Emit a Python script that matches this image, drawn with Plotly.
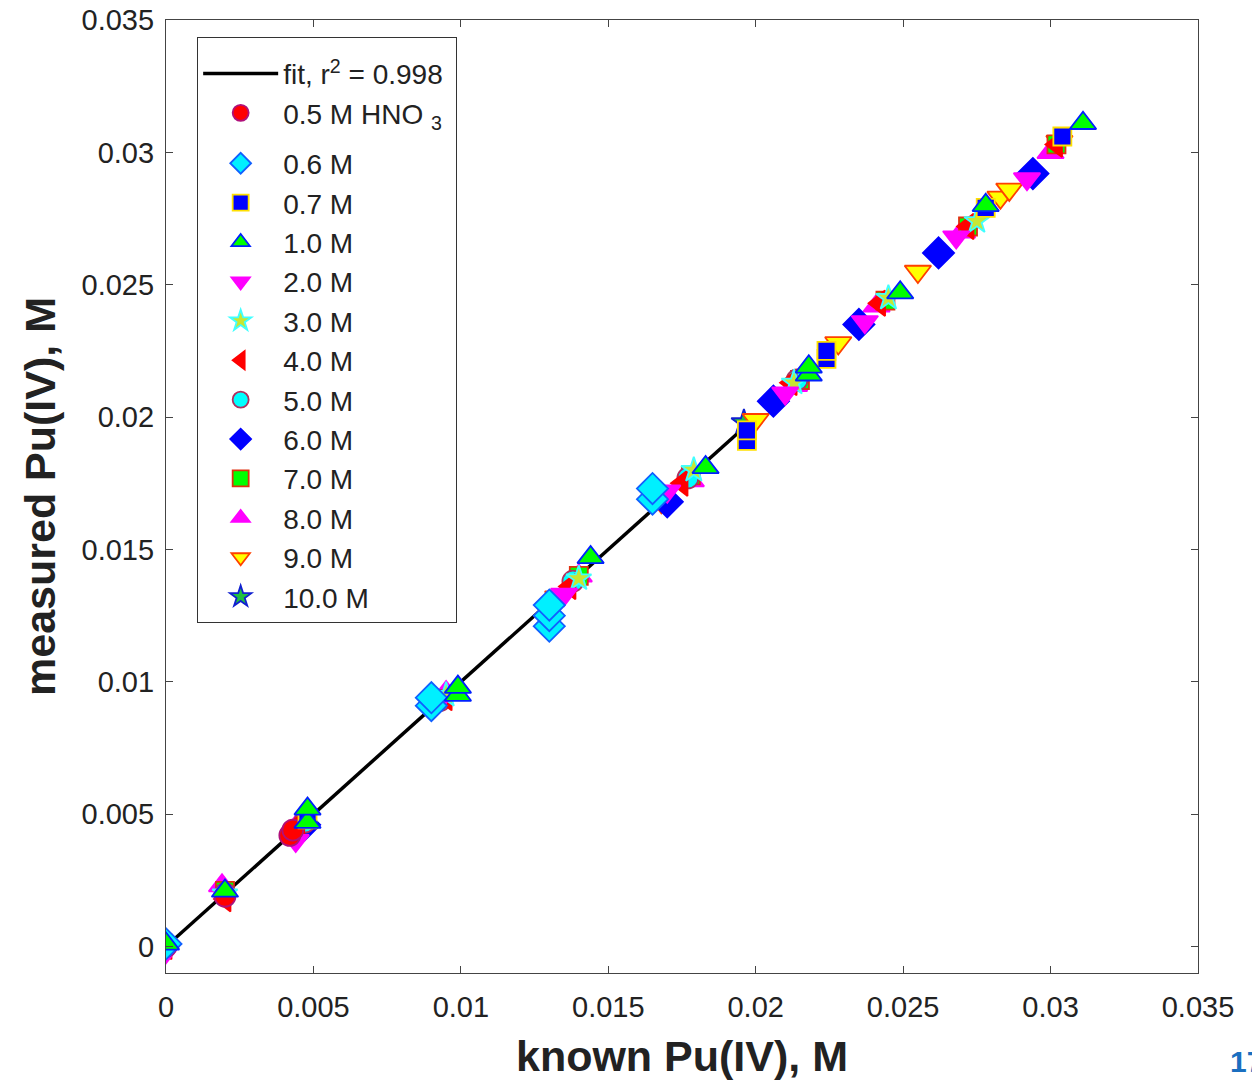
import plotly.graph_objects as go

# ---------------- data ----------------
fit_x = [0.0, 0.0197]
fit_y = [0.0, 0.0197]
fit_label = "fit, r<sup>2</sup> = 0.998\u00a0"

series_names = ["0.5 M HNO <sub>3</sub>", "0.6 M", "0.7 M", "1.0 M", "2.0 M", "3.0 M", "4.0 M",
                "5.0 M", "6.0 M", "7.0 M", "8.0 M", "9.0 M", "10.0 M"]

x_05 = [0.0, 0.0020, 0.0042, 0.0043]
y_05 = [0.0000, 0.0019, 0.0042, 0.0044]

x_06 = [0.0, 0.0090, 0.0090, 0.0130, 0.0130, 0.0130, 0.0165, 0.0165]
y_06 = [0.0001, 0.0091, 0.0094, 0.0121, 0.0125, 0.0129, 0.0169, 0.0173]

x_07 = [0.0048, 0.0197, 0.0197, 0.0224, 0.0224, 0.0278, 0.0304]
y_07 = [0.0048, 0.0191, 0.0195, 0.0222, 0.0225, 0.0279, 0.0306]

x_10 = [0.0, 0.0020, 0.0048, 0.0048, 0.0099, 0.0099, 0.0144, 0.0183, 0.0218, 0.0218, 0.0249, 0.0278, 0.0311]
y_10 = [0.0001, 0.0021, 0.0047, 0.0052, 0.0095, 0.0098, 0.0147, 0.0181, 0.0216, 0.0219, 0.0247, 0.0280, 0.0311]

x_20 = [0.0, 0.0044, 0.0092, 0.0135, 0.0170, 0.0210, 0.0237, 0.0268, 0.0292]
y_20 = [-0.0002, 0.0040, 0.0092, 0.0133, 0.0172, 0.0209, 0.0236, 0.0268, 0.0290]

x_30 = [0.0020, 0.0095, 0.0140, 0.0179, 0.0213, 0.0245, 0.0275]
y_30 = [0.0020, 0.0095, 0.0139, 0.0180, 0.0213, 0.0245, 0.0274]

x_40 = [0.0, 0.0020, 0.0045, 0.0095, 0.0137, 0.0175, 0.0212, 0.0242, 0.0272, 0.0302]
y_40 = [0.0, 0.0018, 0.0046, 0.0094, 0.0136, 0.0175, 0.0213, 0.0243, 0.0272, 0.0303]

x_50 = [0.0020, 0.0047, 0.0093, 0.0138, 0.0177, 0.0214]
y_50 = [0.0020, 0.0047, 0.0093, 0.0138, 0.0177, 0.0214]

x_60 = [0.0047, 0.0170, 0.0206, 0.0235, 0.0262, 0.0294]
y_60 = [0.0046, 0.0168, 0.0206, 0.0235, 0.0262, 0.0292]

x_70 = [0.0020, 0.0140, 0.0178, 0.0215, 0.0244, 0.0272, 0.0302]
y_70 = [0.0021, 0.0140, 0.0178, 0.0214, 0.0244, 0.0272, 0.0303]

x_80 = [0.0019, 0.0046, 0.0095, 0.0140, 0.0178, 0.0213, 0.0241, 0.0270, 0.0300]
y_80 = [0.0023, 0.0048, 0.0096, 0.0140, 0.0176, 0.0212, 0.0242, 0.0270, 0.0300]

x_90 = [0.0133, 0.0168, 0.0200, 0.0228, 0.0255, 0.0283, 0.0286, 0.0303]
y_90 = [0.0132, 0.0168, 0.0199, 0.0228, 0.0255, 0.0283, 0.0286, 0.0304]

x_100 = [0.0196]
y_100 = [0.0198]

tick_vals = [0, 0.005, 0.01, 0.015, 0.02, 0.025, 0.03, 0.035]
tick_text = ["0", "0.005", "0.01", "0.015", "0.02", "0.025", "0.03", "0.035"]

# ---------------- styles ----------------
xs = [x_05, x_06, x_07, x_10, x_20, x_30, x_40, x_50, x_60, x_70, x_80, x_90, x_100]
ys = [y_05, y_06, y_07, y_10, y_20, y_30, y_40, y_50, y_60, y_70, y_80, y_90, y_100]
symbols = ["circle", "diamond", "square", "triangle-up", "triangle-down", "star", "triangle-left",
           "circle", "diamond", "square", "triangle-up", "triangle-down", "star"]
fills = ["#ff0000", "#00f0ff", "#0000ff", "#00ff00", "#ff00ff", "#c8e632", "#ff0000",
         "#00ffff", "#0000ff", "#00ff00", "#ff00ff", "#ffff00", "#20c040"]
edges = ["#b0107a", "#1060ff", "#ffe000", "#0020ff", "#ff00ff", "#40ffff", "#ff0000",
         "#b03060", "#0000ff", "#e03010", "#ff00ff", "#ff4000", "#1020d0"]
sizes = [21, 24, 18, 23, 23, 19, 22, 21, 24, 18, 23, 23, 19]

FONT = "Liberation Sans, Arial"

fig = go.Figure()
fig.add_trace(go.Scatter(x=fit_x, y=fit_y, mode="lines", name=fit_label,
                         line=dict(color="black", width=3.5),
                         legendgroup="top", legendrank=1))

# drawing order: high concentrations first, then 0.5, 0.6, 0.7, 1.0 on top
draw_order = list(range(len(series_names) - 1, 3, -1)) + [0, 1, 2, 3]
for i in draw_order:
    fig.add_trace(go.Scatter(
        x=xs[i], y=ys[i], mode="markers", name=series_names[i],
        legendgroup="top" if i == 0 else "rest", legendrank=i + 2,
        marker=dict(symbol=symbols[i], size=sizes[i], color=fills[i],
                    line=dict(color=edges[i], width=1.8)),
    ))

axis_common = dict(
    tickvals=tick_vals, ticktext=tick_text,
    showgrid=False, zeroline=False, automargin=False,
    showline=True, linecolor="#444444", linewidth=1.2, mirror="allticks",
    ticks="inside", ticklen=7, tickcolor="#444444", ticklabeloverflow="allow",
    tickfont=dict(family=FONT, size=29, color="#222222"),
)

fig.update_layout(
    width=1260, height=1080,
    margin=dict(l=158, r=70, t=12, b=115, autoexpand=False),
    paper_bgcolor="white", plot_bgcolor="white",
    showlegend=True,
    legend=dict(
        x=0.030, y=0.982, xanchor="left", yanchor="top",
        bordercolor="#333333", borderwidth=1.2, bgcolor="white",
        font=dict(family=FONT, size=28, color="#222222"),
        traceorder="grouped", tracegroupgap=11, itemwidth=75,
        title=dict(text="\u200b", font=dict(size=8)),
    ),
    xaxis=dict(range=[0, 0.035], ticklabelstandoff=8, **axis_common,
               title=dict(text="<b>known Pu(IV), M</b>", standoff=18,
                          font=dict(family=FONT, size=43, color="#222222"))),
    yaxis=dict(range=[-0.001, 0.035], ticklabelstandoff=5, **axis_common,
               title=dict(text="<b>measured Pu(IV), M</b>", standoff=12,
                          font=dict(family=FONT, size=43, color="#222222"))),
)

fig.add_annotation(text="<b>17</b>", xref="paper", yref="paper", x=1.029, y=-0.093,
                   xanchor="left", yanchor="middle", showarrow=False,
                   font=dict(family=FONT, size=30, color="#1a6fc0"))

fig.write_html("out.html")
